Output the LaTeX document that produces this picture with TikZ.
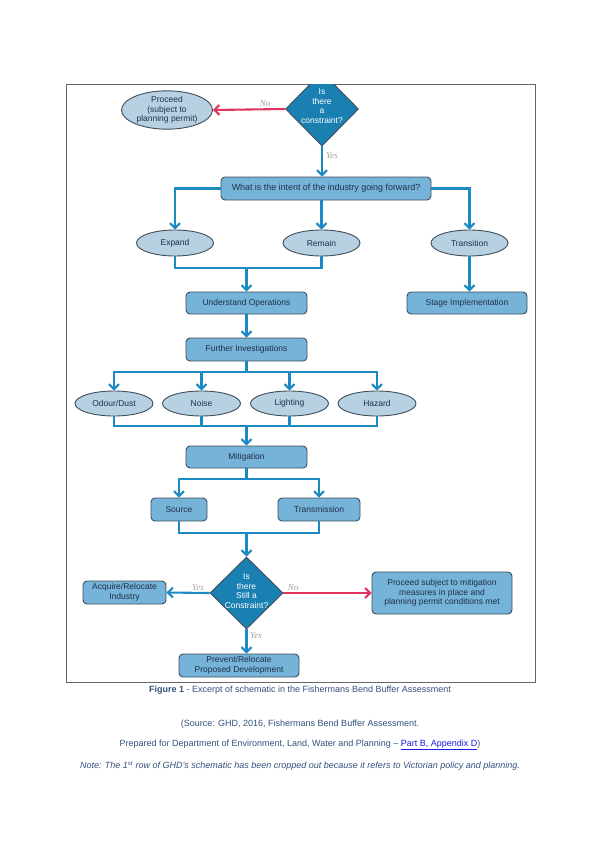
\documentclass[tikz,border=0pt]{standalone}
\usepackage{fontspec}
\setmainfont{Liberation Sans}
\newfontfamily\lblfont{Liberation Serif}
\usetikzlibrary{shapes.geometric,arrows.meta}
\definecolor{boxfill}{HTML}{76B3D8}
\definecolor{boxline}{HTML}{3E4E5A}
\definecolor{ellfill}{HTML}{B7D0E2}
\definecolor{diafill}{HTML}{1A80B2}
\definecolor{conn}{HTML}{1C8AC2}
\definecolor{redconn}{HTML}{E0365E}
\definecolor{txt}{HTML}{1F3048}
\definecolor{captxt}{HTML}{34507E}
\definecolor{lbl}{HTML}{A3A3A3}
\definecolor{linkblue}{HTML}{1A1AE6}
\tikzset{
  base/.style={inner sep=0pt, align=center, text=txt, font=\fontsize{8.5}{9.6}\selectfont},
  boxn/.style={base, rectangle, rounded corners=4pt, draw=boxline, line width=0.9pt, fill=boxfill},
  elln/.style={base, ellipse, draw=boxline, line width=0.9pt, fill=ellfill},
  dian/.style={diamond, inner sep=0pt, draw=boxline, line width=0.9pt, fill=diafill},
  diatext/.style={base, text=white},
  conline/.style={draw=conn, line width=2.1pt},
  arr/.style={conline, -{Straight Barb[length=5pt,width=10pt]}},
  redarr/.style={draw=redconn, line width=2.1pt, -{Straight Barb[length=5pt,width=10pt]}},
  yn/.style={text=lbl, font=\lblfont\itshape\fontsize{9}{10}\selectfont, inner sep=0pt},
  captext/.style={text=captxt, font=\fontsize{9}{10}\selectfont, inner sep=0pt}
}
\begin{document}
\begin{tikzpicture}[x=1pt,y=-1pt]
\useasboundingbox (0,0) rectangle (599,848);
\fill[white] (0,0) rectangle (599,848);
% frame
\draw[draw=black!60, line width=1pt] (66,85) rectangle (535,682);
% top diamond (clipped by frame)
\begin{scope}
\clip (66,85) rectangle (535,682);
\node[dian, minimum width=73pt, minimum height=74pt] (d1) at (322,109) {};
\end{scope}
\node[diatext] at (322,106) {Is\\there\\a\\constraint?};
% nodes
\node[elln, minimum width=91pt, minimum height=37pt] (proc) at (167,110) {Proceed\\(subject to\\planning permit)};
\node[boxn, minimum width=210pt, minimum height=23pt, font=\fontsize{8.9}{9.6}\selectfont] (intent) at (326,188.5) {What is the intent of the industry going forward?};
\node[elln, minimum width=77pt, minimum height=26pt] (expand) at (175,243) {Expand};
\node[elln, minimum width=77pt, minimum height=26pt] (remain) at (321.5,243) {Remain};
\node[elln, minimum width=77pt, minimum height=26pt] (trans) at (469.5,243) {Transition};
\node[boxn, minimum width=121pt, minimum height=22pt] (uo) at (246.5,303) {Understand Operations};
\node[boxn, minimum width=120pt, minimum height=22pt] (si) at (467,303) {Stage Implementation};
\node[boxn, minimum width=121pt, minimum height=23pt] (fi) at (246.5,349.5) {Further Investigations};
\node[elln, minimum width=78pt, minimum height=25pt] (odour) at (114,403.5) {Odour/Dust};
\node[elln, minimum width=78pt, minimum height=25pt] (noise) at (201.5,403.5) {Noise};
\node[elln, minimum width=78pt, minimum height=25pt] (light) at (289.5,403.5) {Lighting};
\node[elln, minimum width=78pt, minimum height=25pt] (hazard) at (377,403.5) {Hazard};
\node[boxn, minimum width=121pt, minimum height=22pt] (mit) at (246.5,457) {Mitigation};
\node[boxn, minimum width=56pt, minimum height=23pt] (source) at (179,509.5) {Source};
\node[boxn, minimum width=82pt, minimum height=23pt] (transm) at (319,509.5) {Transmission};
\node[dian, minimum width=73pt, minimum height=72pt] (d2) at (246.5,593) {};
\node[diatext] at (246.5,591) {Is\\there\\Still a\\Constraint?};
\node[boxn, minimum width=83pt, minimum height=23pt] (acq) at (124.5,592.5) {Acquire/Relocate\\Industry};
\node[boxn, minimum width=140pt, minimum height=42pt] (pro) at (442,593) {Proceed subject to mitigation\\measures in place and\\planning permit conditions met};
\node[boxn, minimum width=120pt, minimum height=23pt] (prev) at (239,665.5) {Prevent/Relocate\\Proposed Development};
% junction coordinates
\coordinate (m1) at (246.5,268);
\coordinate (s1) at (246.5,372);
\coordinate (m2) at (246.5,426);
\coordinate (s2) at (246.5,479);
\coordinate (m3) at (246.5,533);
% connectors
\draw[redarr] (d1.west) -- (proc.east);
\node[yn] at (265,104) {No};
\draw[arr] (d1.south) -- (d1.south |- intent.north);
\node[yn] at (332,156) {Yes};
\draw[arr] (intent.west) -| (expand.north);
\draw[arr] (remain.north |- intent.south) -- (remain.north);
\draw[arr] (intent.east) -| (trans.north);
\draw[arr] (trans.south) -- (trans.south |- si.north);
\draw[conline] (expand.south) |- (m1);
\draw[conline] (remain.south) |- (m1);
\draw[arr] (m1) -- (uo.north);
\draw[arr] (uo.south) -- (fi.north);
\draw[conline] (fi.south) -- (s1);
\draw[arr] (s1) -| (odour.north);
\draw[arr] (s1) -| (noise.north);
\draw[arr] (s1) -| (light.north);
\draw[arr] (s1) -| (hazard.north);
\draw[conline] (odour.south) |- (m2);
\draw[conline] (noise.south) |- (m2);
\draw[conline] (light.south) |- (m2);
\draw[conline] (hazard.south) |- (m2);
\draw[arr] (m2) -- (mit.north);
\draw[conline] (mit.south) -- (s2);
\draw[arr] (s2) -| (source.north);
\draw[arr] (s2) -| (transm.north);
\draw[conline] (source.south) |- (m3);
\draw[conline] (transm.south) |- (m3);
\draw[arr] (m3) -- (d2.north);
\draw[arr] (d2.west) -- (acq.east);
\node[yn] at (198,588) {Yes};
\draw[redarr] (d2.east) -- (pro.west);
\node[yn] at (293,588) {No};
\draw[arr] (d2.south) -- (d2.south |- prev.north);
\node[yn] at (256,636) {Yes};
% captions
\node[captext] (c1) at (300,690) {\textbf{Figure 1} - Excerpt of schematic in the Fishermans Bend Buffer Assessment};
\node[captext] (c2) at (300,724) {(Source: GHD, 2016, Fishermans Bend Buffer Assessment.};
\node[captext] (c3) at (300,745) {Prepared for Department of Environment, Land, Water and Planning – \textcolor{linkblue}{\underline{Part B, Appendix D}})};
\node[captext, font=\itshape\fontsize{9}{10}\selectfont] (c4) at (300,766) {Note: The 1\textsuperscript{st} row of GHD’s schematic has been cropped out because it refers to Victorian policy and planning.};
\end{tikzpicture}
\end{document}
